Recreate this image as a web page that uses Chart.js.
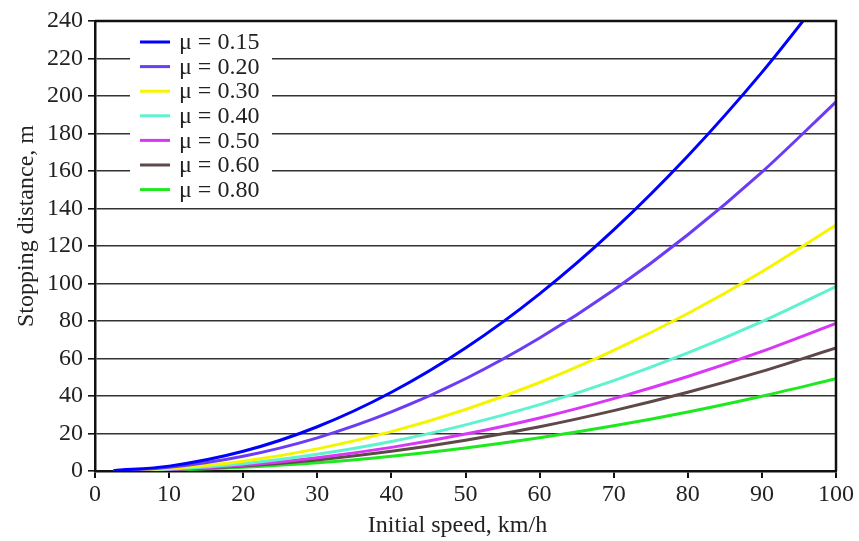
<!DOCTYPE html>
<html>
<head>
<meta charset="utf-8">
<script src="https://cdn.jsdelivr.net/npm/chart.js@4.4.1/dist/chart.umd.min.js"></script>
<style>
  html, body { margin: 0; padding: 0; background: #fff; }
  #wrap { width: 859px; height: 541px; }
</style>
</head>
<body>
<div id="wrap"><canvas id="chart-stop"></canvas></div>
<script>
// Stopping distance vs initial speed for several friction coefficients.

const speeds = [2.5, 10, 20, 30, 40, 50, 60, 70, 80, 90, 100];

const mu015 = [0.2, 2.6, 10.5, 23.6, 42.0, 65.6, 94.5, 128.6, 168.0, 212.6, 262.5];
const mu020 = [0.1, 2.0, 7.9, 17.7, 31.5, 49.2, 70.9, 96.5, 126.0, 159.4, 196.9];
const mu030 = [0.1, 1.3, 5.2, 11.8, 21.0, 32.8, 47.2, 64.3, 84.0, 106.3, 131.2];
const mu040 = [0.1, 1.0, 3.9, 8.9, 15.7, 24.6, 35.4, 48.2, 63.0, 79.7, 98.4];
const mu050 = [0.0, 0.8, 3.1, 7.1, 12.6, 19.7, 28.3, 38.6, 50.4, 63.8, 78.7];
const mu060 = [0.0, 0.7, 2.6, 5.9, 10.5, 16.4, 23.6, 32.2, 42.0, 53.1, 65.6];
const mu080 = [0.0, 0.5, 2.0, 4.4, 7.9, 12.3, 17.7, 24.1, 31.5, 39.9, 49.2];

const seriesLabels = ["μ = 0.15", "μ = 0.20", "μ = 0.30", "μ = 0.40", "μ = 0.50", "μ = 0.60", "μ = 0.80"];
const seriesValues = [mu015, mu020, mu030, mu040, mu050, mu060, mu080];
const seriesColors = ["#0000ff", "#6a3cf5", "#f5f500", "#5ef2cf", "#d838f5", "#5e4848", "#1ee81e"];

const xTicks = [0, 10, 20, 30, 40, 50, 60, 70, 80, 90, 100];
const yTicks = [0, 20, 40, 60, 80, 100, 120, 140, 160, 180, 200, 220, 240];

const xTitle = "Initial speed, km/h";
const yTitle = "Stopping distance, m";

const FONT = "'Liberation Serif', 'Times New Roman', serif";

const datasets = seriesValues.map((vals, i) => ({
    label: seriesLabels[i],
    data: vals.map((v, j) => ({ x: speeds[j], y: v })),
    borderColor: seriesColors[i],
    backgroundColor: seriesColors[i],
    borderWidth: 3,
    pointRadius: 0,
    cubicInterpolationMode: "monotone",
    fill: false,
}));

// legend box inside the plot (over the grid lines), axis titles, top/right frame
const decorations = {
    id: "decorations",
    beforeDatasetsDraw(chart) {
        const ctx = chart.ctx;
        ctx.save();
        ctx.fillStyle = "#fff";
        ctx.fillRect(130, 31, 142, 170);
        ctx.font = "24px " + FONT;
        ctx.textBaseline = "middle";
        ctx.fillStyle = "#222";
        chart.data.datasets.forEach((ds, i) => {
            const y = 42 + i * 24.6;
            ctx.strokeStyle = ds.borderColor;
            ctx.lineWidth = 3;
            ctx.beginPath();
            ctx.moveTo(140, y);
            ctx.lineTo(170, y);
            ctx.stroke();
            ctx.fillText(ds.label, 179, y + 1);
        });
        ctx.restore();
    },
    afterDraw(chart) {
        const { left, right, top, bottom } = chart.chartArea;
        const ctx = chart.ctx;
        ctx.save();
        ctx.strokeStyle = "#111";
        ctx.lineWidth = 2.5;
        ctx.beginPath();
        ctx.moveTo(left, top);
        ctx.lineTo(right, top);
        ctx.lineTo(right, bottom);
        ctx.stroke();

        ctx.fillStyle = "#222";
        ctx.font = "24px " + FONT;
        ctx.textAlign = "center";
        ctx.textBaseline = "middle";
        ctx.fillText(xTitle, (left + right) / 2 - 8, 526);
        ctx.translate(27, 226);
        ctx.rotate(-Math.PI / 2);
        ctx.fillText(yTitle, 0, 0);
        ctx.restore();
    },
};

new Chart(document.getElementById("chart-stop").getContext("2d"), {
    type: "line",
    data: { datasets },
    plugins: [decorations],
    options: {
        responsive: true,
        maintainAspectRatio: false,
        animation: false,
        layout: { padding: { top: 21, right: 23, left: 0, bottom: 0 } },
        plugins: {
            legend: { display: false },
            tooltip: { enabled: false },
        },
        scales: {
            x: {
                type: "linear",
                min: 0,
                max: 100,
                afterBuildTicks: s => { s.ticks = xTicks.map(v => ({ value: v })); },
                afterFit: s => { s.height = 70; },
                ticks: { color: "#222", font: { family: FONT, size: 24 }, padding: 2, maxRotation: 0 },
                grid: { drawOnChartArea: false, tickLength: 7, tickColor: "#111", lineWidth: 2 },
                border: { color: "#111", width: 2.5 },
            },
            y: {
                min: 0,
                max: 240,
                afterBuildTicks: s => { s.ticks = yTicks.map(v => ({ value: v })); },
                afterFit: s => { s.width = 95; },
                ticks: { color: "#222", font: { family: FONT, size: 24 }, padding: 5 },
                grid: { color: "#333", lineWidth: 1.6, tickLength: 7, tickColor: "#111" },
                border: { color: "#111", width: 2.5 },
            },
        },
    },
});
</script>
</body>
</html>
